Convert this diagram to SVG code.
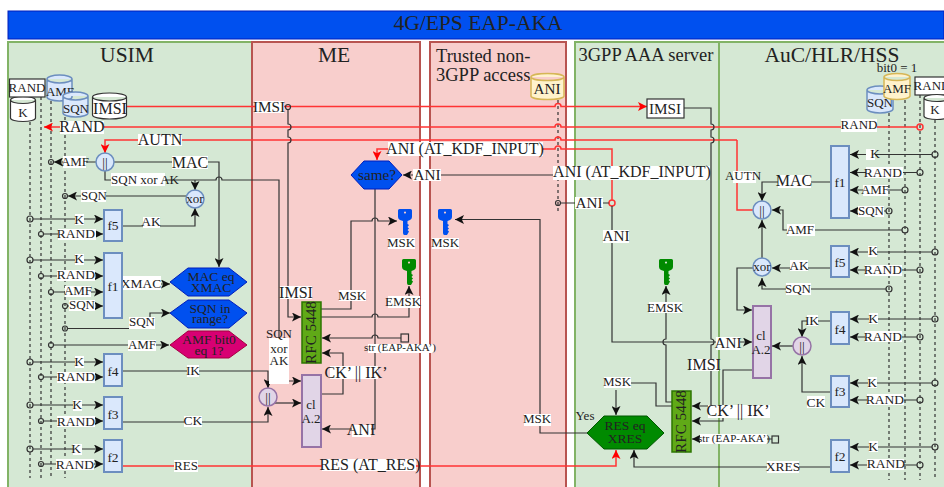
<svg xmlns="http://www.w3.org/2000/svg" width="944" height="487" viewBox="0 0 944 487">
<style>
text{font-family:"Liberation Serif","Times New Roman",serif;fill:#222;text-anchor:middle}
.t20{font-size:21.500px}.t18{font-size:18.500px}.s16{font-size:16px}.s15{font-size:15.200px}.s14{font-size:13.500px}.s13{font-size:13px}.s11{font-size:11px}
.lane{stroke-width:2}.g{fill:#d5e8d4;stroke:#82b366}.r{fill:#f8cecc;stroke:#b85450}
.c{fill:none;stroke:#333;stroke-width:1.2}
.arr{marker-end:url(#a)}
.red{fill:none;stroke:#f33;stroke-width:1.500}
.rarr{marker-end:url(#ra)}
.dot{fill:none;stroke:#333;stroke-width:1.200;stroke-dasharray:3 3}
.o{fill:none;stroke:#333;stroke-width:1.200}
.ro{fill:none;stroke:#f33;stroke-width:1.500}
.bg{fill:#fff}
.fn{fill:#dae8fc;stroke:#6c8ebf;stroke-width:2}
.pu{fill:#e1d5e7;stroke:#9673a6;stroke-width:2}
.rfc{fill:#60a917;stroke:#2d7600;stroke-width:1.500}
.cb{fill:#dae8fc;stroke:#6c8ebf;stroke-width:1.500}
.cy{fill:#fff2cc;stroke:#d6b656;stroke-width:1.500}
.cw{fill:#fff;stroke:#333;stroke-width:1.200}
.hb{fill:#0050ef;stroke:#001dbc}
.hm{fill:#d80073;stroke:#a50040}
.hg{fill:#008a00;stroke:#005700}
.box{fill:#fff;stroke:#333;stroke-width:1.200}
</style>
<defs>
<marker id="a" markerUnits="userSpaceOnUse" markerWidth="10" markerHeight="9" refX="9" refY="4.500" orient="auto"><path d="M0,0 L9,4.500 L0,9 L2.200,4.500 Z" fill="#111"/></marker>
<marker id="ra" markerUnits="userSpaceOnUse" markerWidth="10" markerHeight="9" refX="9" refY="4.500" orient="auto"><path d="M0,0 L9,4.500 L0,9 L2.200,4.500 Z" fill="#f00"/></marker>
<g id="key"><path d="M1.500,0 H12.500 Q14,0 14,1.500 V8 Q14,10 12,11 L9.500,12 V15 L11,16 L9.500,18 L11,19.500 L9.500,21 L11,22.500 L9,26 H6.500 Q5,26 5,24 V12 L2,11 Q0,10 0,8 V1.500 Q0,0 1.500,0 Z M7,2.500 a1,1 0 1 0 .01,0 Z" fill-rule="evenodd"/></g>
</defs>

<g id="title"><rect x="8" y="11" width="936" height="28" fill="#0050ef" stroke="#001dbc"/><text x="478" y="30" class="t20">4G/EPS EAP-AKA</text></g>
<g id="lanes">
<rect class="lane g" x="8" y="42" width="244" height="450"/>
<rect class="lane r" x="252" y="42" width="168" height="450"/>
<rect class="lane r" x="430" y="42" width="136" height="450"/>
<rect class="lane g" x="575" y="42" width="144" height="450"/>
<rect class="lane g" x="719" y="42" width="230" height="450"/>
<text x="127" y="62" class="t20">USIM</text>
<text x="334" y="62" class="t20">ME</text>
<text x="436" y="62" class="t18" style="text-anchor:start">Trusted non-</text>
<text x="436" y="81" class="t18" style="text-anchor:start">3GPP access</text>
<text x="646" y="61" class="t18">3GPP AAA server</text>
<text x="832" y="62" class="t20">AuC/HLR/HSS</text>
</g>

<g id="connectors">
<path class="dot" d="M30,122V478M41,97V478M51,101V478M65,117V478"/>
<path class="dot" d="M889,113V480M905,100V480M920,95V480M935,120V480"/>
<path class="dot" d="M558,100V214"/>
<!-- red -->
<path class="red" d="M127,106.500H555a3,3 0 0 1 6,0H647" style="marker-end:url(#ra)"/>
<path class="red rarr" d="M917,127H561a3,3 0 0 0 -6,0H44"/>
<path class="red rarr" d="M737,140H561a3,3 0 0 0 -6,0H105V153"/>
<path class="red" d="M737,140V210H753"/>
<path class="red rarr" d="M612,200V149H561a3,3 0 0 0 -6,0H377V160"/>
<path class="red rarr" d="M122,466H616V450"/>
<circle class="ro" cx="920" cy="127" r="3"/><circle class="ro" cx="612" cy="203" r="3"/>
<!-- USIM -->
<path class="c arr" d="M96,162H54"/><circle class="o" cx="51" cy="162" r="2.500"/>
<path class="c arr" d="M114,162H219V267"/>
<path class="c arr" d="M105,171V180H216a3,3 0 0 1 6,0H279V381H301"/>
<path class="c arr" d="M195,180V190"/>
<path class="c arr" d="M186,196H68"/><circle class="o" cx="65" cy="196" r="2.500"/>
<path class="c arr" d="M122,226H195V208"/>
<path class="c arr" d="M33,219H103"/><path class="c arr" d="M44,234H103"/>
<path class="c arr" d="M33,260H103"/><path class="c arr" d="M44,276H103"/><path class="c arr" d="M54,292H103"/><path class="c arr" d="M68,306H103"/>
<path class="c arr" d="M122,284H170"/>
<path class="c arr" d="M68,328.500H150V313H170"/>
<path class="c arr" d="M54,345H169"/>
<path class="c arr" d="M33,362H103"/><path class="c arr" d="M44,377H103"/>
<path class="c arr" d="M122,371H268V388"/>
<path class="c arr" d="M33,405H103"/><path class="c arr" d="M44,421H103"/>
<path class="c arr" d="M122,414V422H268V407"/>
<path class="c arr" d="M33,449H103"/><path class="c arr" d="M44,464H103"/>
<g class="o">
<circle cx="30" cy="219" r="3"/><circle cx="41" cy="234" r="2.500"/><circle cx="30" cy="260" r="3"/><circle cx="41" cy="276" r="2.500"/><circle cx="51" cy="292" r="2.500"/><circle cx="65" cy="306" r="2.500"/><circle cx="65" cy="328.500" r="2.500"/><circle cx="51" cy="345" r="2.500"/><circle cx="30" cy="362" r="3"/><circle cx="41" cy="377" r="2.500"/><circle cx="30" cy="405" r="3"/><circle cx="41" cy="421" r="2.500"/><circle cx="30" cy="449" r="3"/><circle cx="41" cy="464" r="2.500"/>
</g>
<!-- ME -->
<circle class="o" cx="288" cy="107" r="2.500"/>
<path class="c arr" d="M288,110V124a3,3 0 0 1 0,6V137a3,3 0 0 1 0,6V317H301"/>
<path class="c arr" d="M275,403H301"/>
<path class="c arr" d="M321,394H343V353H322"/>
<path class="c arr" d="M375,189V429H322"/>
<path class="c arr" d="M321,309H351V221H372a3,3 0 0 1 6,0H397"/>
<path class="c arr" d="M321,317H372a3,3 0 0 1 6,0H409V286"/>
<path class="c arr" d="M401,338H378a3,3 0 0 0 -6,0H322"/>
<path class="c arr" d="M555,175H403"/><circle class="o" cx="558" cy="175" r="3"/>
<path class="c" d="M561,203H609"/><circle class="o" cx="558" cy="203" r="2.500"/>
<path class="c arr" d="M587,433H540V219.500H455"/>
<!-- AAA -->
<path class="c arr" d="M612,206V342H752"/>
<path class="c arr" d="M672,402H666V345a3,3 0 0 1 0,-6V286"/>
<path class="c" d="M630,383H656V406H672"/>
<path class="c arr" d="M616,390V415"/>
<path class="c arr" d="M684,108H711V124a3,3 0 0 1 0,6V137a3,3 0 0 1 0,6V339a3,3 0 0 1 0,6V406H692"/>
<path class="c arr" d="M752,370H723V421H692"/>
<path class="c arr" d="M772,439H692"/>
<path class="c arr" d="M831,467H634V450"/>
<!-- AuC -->
<path class="c arr" d="M932,154.500H850"/><path class="c arr" d="M917,172.500H850"/><path class="c arr" d="M902,190H850"/><path class="c arr" d="M886,211H850"/>
<path class="c arr" d="M831,182H762V201"/>
<path class="c arr" d="M902,230H783V210H772"/>
<path class="c arr" d="M762,258V220"/>
<path class="c arr" d="M932,252H850"/><path class="c arr" d="M917,270H850"/>
<path class="c arr" d="M831,268H772"/>
<path class="c arr" d="M886,289H762V278"/>
<path class="c arr" d="M753,268H737V310H752"/>
<path class="c arr" d="M932,319H850"/><path class="c arr" d="M917,337H850"/>
<path class="c arr" d="M831,321H802V337"/>
<path class="c arr" d="M793,346H772"/>
<path class="c arr" d="M932,383H850"/><path class="c arr" d="M917,400H850"/>
<path class="c arr" d="M831,392H802V356"/>
<path class="c arr" d="M932,447H850"/><path class="c arr" d="M917,465H850"/>
<g class="o">
<circle cx="935" cy="154.500" r="3"/><circle cx="920" cy="172.500" r="3"/><circle cx="905" cy="190" r="3"/><circle cx="889" cy="211" r="3"/><circle cx="905" cy="230" r="3"/><circle cx="935" cy="252" r="3"/><circle cx="920" cy="270" r="3"/><circle cx="889" cy="289" r="3"/><circle cx="935" cy="319" r="3"/><circle cx="920" cy="337" r="3"/><circle cx="935" cy="383" r="3"/><circle cx="920" cy="400" r="3"/><circle cx="935" cy="447" r="3"/><circle cx="920" cy="465" r="3"/>
</g>
<!-- labels -->
<g class="bg">
<rect x="60" y="121" width="44" height="13"/><rect x="138" y="134" width="44" height="12"/><rect x="63" y="156" width="23" height="12"/><rect x="172" y="156" width="36" height="13"/>
<rect x="111" y="173" width="54" height="13"/><rect x="81" y="190" width="25" height="12"/><rect x="75" y="214" width="9" height="11"/><rect x="143" y="217" width="17" height="11"/><rect x="58" y="229" width="38" height="11"/>
<rect x="75" y="254" width="9" height="11"/><rect x="57" y="270" width="38" height="11"/><rect x="65" y="286" width="26" height="11"/><rect x="69" y="300" width="26" height="11"/>
<rect x="123" y="276" width="38" height="14"/><rect x="129" y="317" width="26" height="12"/><rect x="128" y="340" width="28" height="11"/>
<rect x="75" y="356" width="9" height="12"/><rect x="57" y="372" width="38" height="11"/><rect x="187" y="365" width="12" height="12"/>
<rect x="73" y="400" width="9" height="11"/><rect x="57" y="416" width="38" height="11"/><rect x="184" y="416" width="18" height="11"/>
<rect x="73" y="444" width="9" height="11"/><rect x="56" y="459" width="38" height="11"/><rect x="174" y="460" width="24" height="12"/>
<rect x="255" y="101" width="29" height="12"/>
<rect x="280" y="286" width="32" height="13"/><rect x="339" y="290" width="27" height="11"/><rect x="388" y="296" width="32" height="12"/>
<rect x="269" y="338" width="20" height="46"/>
<rect x="330" y="366" width="48" height="13"/>
<rect x="352" y="425" width="19" height="12"/><rect x="368" y="344" width="66" height="9"/>
<rect x="322" y="459" width="94" height="12"/>
<rect x="388" y="142" width="155" height="14"/><rect x="413" y="169" width="28" height="12"/>
<rect x="388" y="238" width="27" height="11"/><rect x="432" y="238" width="27" height="11"/>
<rect x="524" y="414" width="27" height="12"/>
<rect x="553" y="166" width="157" height="14"/><rect x="575" y="197" width="28" height="12"/><rect x="603" y="230" width="26" height="13"/>
<rect x="649" y="302" width="33" height="11"/><rect x="604" y="377" width="27" height="11"/>
<rect x="690" y="359" width="29" height="12"/><rect x="716" y="337" width="24" height="13"/>
<rect x="708" y="405" width="62" height="13"/><rect x="700" y="434" width="67" height="10"/>
<rect x="767" y="461" width="32" height="12"/>
<rect x="841" y="119" width="36" height="13"/><rect x="733" y="171" width="23" height="12"/><rect x="778" y="175" width="33" height="13"/>
<rect x="866" y="149" width="9" height="11"/><rect x="866" y="167" width="37" height="11"/><rect x="863" y="185" width="25" height="11"/><rect x="858" y="206" width="26" height="11"/>
<rect x="787" y="224" width="28" height="12"/><rect x="868" y="246" width="9" height="11"/><rect x="865" y="265" width="37" height="11"/><rect x="790" y="260" width="18" height="11"/><rect x="786" y="283" width="25" height="12"/>
<rect x="807" y="315" width="11" height="11"/><rect x="869" y="313" width="9" height="11"/><rect x="865" y="331" width="37" height="11"/><rect x="807" y="396" width="18" height="12"/>
<rect x="868" y="377" width="9" height="11"/><rect x="867" y="394" width="37" height="11"/><rect x="869" y="441" width="9" height="11"/><rect x="867" y="459" width="37" height="11"/>
</g>
<text x="82" y="132" class="s16">RAND</text><text x="160" y="145" class="s16">AUTN</text><text x="75" y="166" class="s13">AMF</text><text x="190" y="168" class="s16">MAC</text>
<text x="145" y="184" class="s13">SQN xor AK</text><text x="94" y="200" class="s13">SQN</text><text x="79" y="224" class="s14">K</text><text x="151" y="226" class="s14">AK</text><text x="76" y="238" class="s14">RAND</text>
<text x="79" y="263" class="s14">K</text><text x="76" y="279" class="s14">RAND</text><text x="78" y="295" class="s13">AMF</text><text x="82" y="309" class="s13">SQN</text>
<text x="141" y="288" class="s14">XMAC</text><text x="142" y="326" class="s13">SQN</text><text x="142" y="349" class="s13">AMF</text>
<text x="79" y="366" class="s14">K</text><text x="76" y="381" class="s14">RAND</text><text x="193" y="375" class="s14">IK</text>
<text x="77" y="409" class="s14">K</text><text x="76" y="426" class="s14">RAND</text><text x="193" y="425" class="s14">CK</text>
<text x="76" y="453" class="s14">K</text><text x="75" y="469" class="s14">RAND</text><text x="186" y="470" class="s13">RES</text>
<text x="269" y="112" class="s15">IMSI</text>
<text x="296" y="298" class="s16">IMSI</text><text x="352" y="300" class="s13">MSK</text><text x="403" y="306" class="s13">EMSK</text>
<text x="279" y="338" class="s13">SQN</text><text x="279" y="353" class="s13">xor</text><text x="279" y="365" class="s13">AK</text>
<text x="356" y="378" class="s16">CK’ || IK’</text><text x="361" y="435" class="s16">ANI</text><text x="400" y="351" class="s11">str (EAP-AKA’)</text>
<text x="370" y="470" class="s16">RES (AT_RES)</text>
<text x="465" y="154" class="s16">ANI (AT_KDF_INPUT)</text><text x="427" y="180" class="s15">ANI</text>
<text x="401" y="247" class="s13">MSK</text><text x="445" y="247" class="s13">MSK</text><text x="537" y="423" class="s13">MSK</text>
<text x="632" y="177" class="s16">ANI (AT_KDF_INPUT)</text><text x="589" y="208" class="s15">ANI</text><text x="616" y="241" class="s15">ANI</text>
<text x="665" y="312" class="s13">EMSK</text><text x="617" y="386" class="s13">MSK</text><text x="585" y="420" class="s13">Yes</text>
<text x="704" y="370" class="s16">IMSI</text><text x="728" y="348" class="s15">ANI</text><text x="738" y="416" class="s16">CK’ || IK’</text><text x="734" y="442" class="s11">str (EAP-AKA’)</text>
<text x="783" y="471" class="s14">XRES</text>
<text x="859" y="129" class="s13">RAND</text><text x="743" y="180" class="s13">AUTN</text><text x="794" y="186" class="s16">MAC</text>
<text x="875" y="158" class="s14">K</text><text x="883" y="177" class="s14">RAND</text><text x="875" y="194" class="s13">AMF</text><text x="871" y="215" class="s13">SQN</text>
<text x="800" y="234" class="s13">AMF</text><text x="873" y="255" class="s14">K</text><text x="883" y="274" class="s14">RAND</text><text x="799" y="270" class="s14">AK</text><text x="798" y="293" class="s13">SQN</text>
<text x="812" y="325" class="s14">IK</text><text x="873" y="323" class="s14">K</text><text x="883" y="341" class="s14">RAND</text><text x="816" y="407" class="s14">CK</text>
<text x="872" y="387" class="s14">K</text><text x="885" y="404" class="s14">RAND</text><text x="873" y="451" class="s14">K</text><text x="886" y="468" class="s14">RAND</text>
<text x="897" y="72" class="s13">bit0 = 1</text>
</g>

<g id="usim-k"><path class="cw" d="M10.500,100a12.500,3.500 0 0 1 25,0V118a12.500,3.500 0 0 1 -25,0ZM10.500,100a12.500,3.500 0 0 0 25,0"/><text x="23" y="117" class="s13">K</text></g>
<g id="usim-amf"><path class="cb" d="M47,79a12.500,4 0 0 1 25,0V97a12.500,4 0 0 1 -25,0ZM47,79a12.500,4 0 0 0 25,0"/><text x="60" y="96" class="s13">AMF</text></g>
<g id="usim-sqn"><path class="cb" d="M63,96a12.500,4 0 0 1 25,0V113a12.500,4 0 0 1 -25,0ZM63,96a12.500,4 0 0 0 25,0"/><text x="76" y="113" class="s13">SQN</text></g>
<g id="usim-rand"><rect class="box" x="9.500" y="79" width="35.500" height="18"/><text x="27" y="92" class="s13">RAND</text></g>
<g id="usim-imsi"><path class="cw" d="M92.500,97a17,4 0 0 1 34,0V115a17,4 0 0 1 -34,0ZM92.500,97a17,4 0 0 0 34,0"/><text x="110" y="114" class="s16">IMSI</text></g>
<g id="usim-concat"><circle class="cb" cx="105" cy="162" r="9"/><text x="105" y="167" class="s14">||</text></g>
<g id="usim-xor"><circle class="cb" cx="195" cy="199" r="9"/><text x="195" y="203" class="s13">xor</text></g>
<g id="usim-f5"><rect class="fn" x="104" y="210" width="18" height="31"/><text x="113" y="230" class="s14">f5</text></g>
<g id="usim-f1"><rect class="fn" x="104" y="253" width="18" height="65"/><text x="113" y="291" class="s14">f1</text></g>
<g id="usim-f4"><rect class="fn" x="104" y="354" width="18" height="32"/><text x="113" y="376" class="s14">f4</text></g>
<g id="usim-f3"><rect class="fn" x="104" y="397" width="18" height="32"/><text x="113" y="419" class="s14">f3</text></g>
<g id="usim-f2"><rect class="fn" x="104" y="440" width="18" height="32"/><text x="113" y="462" class="s14">f2</text></g>
<g id="hex-mac"><polygon class="hb" points="170,282 188,268 229,268 247,282 229,296 188,296"/><text x="211" y="281" class="s14">MAC eq</text><text x="211" y="292" class="s14">XMAC</text></g>
<g id="hex-sqn"><polygon class="hb" points="170,313 188,300 229,300 247,313 229,328 188,328"/><text x="210" y="313" class="s14">SQN in</text><text x="210" y="323" class="s14">range?</text></g>
<g id="hex-amf"><polygon class="hm" points="170,345 188,331 229,331 247,345 229,358 188,358"/><text x="209" y="344" class="s14">AMF bit0</text><text x="209" y="355" class="s14">eq 1?</text></g>
<g id="me-concat"><circle class="pu" cx="268" cy="397" r="9" style="stroke-width:1.500"/><text x="268" y="402" class="s14">||</text></g>
<g id="me-a2"><rect class="pu" x="302" y="375" width="19" height="72"/><text x="311" y="409" class="s13">cl</text><text x="311" y="423" class="s13">A.2</text></g>
<g id="me-rfc"><rect class="rfc" x="302" y="302" width="19" height="61"/><text transform="translate(316 332.500) rotate(-90)" class="s15">RFC 5448</text></g>
<g id="me-same"><polygon class="hb" points="351,175 364,161 389,161 402,175 389,189 364,189"/><text x="377" y="180" class="s15">same?</text></g>
<g id="me-msk"><use href="#key" x="398" y="209" fill="#0050ef"/></g>
<g id="ta-msk"><use href="#key" x="438" y="209" fill="#0050ef"/></g>
<g id="me-emsk"><use href="#key" x="402" y="259" fill="#008a00"/></g>
<g id="me-str"><rect x="401" y="334" width="7.500" height="8" class="o"/></g>
<g id="ta-ani"><path class="cy" d="M531,77a16.500,3.500 0 0 1 33,0V96a16.500,3.500 0 0 1 -33,0ZM531,77a16.500,3.500 0 0 0 33,0"/><text x="547" y="94" class="s15">ANI</text></g>
<g id="aaa-imsi"><rect class="box" x="647" y="99" width="37" height="19"/><text x="665" y="114" class="s15">IMSI</text></g>
<g id="aaa-emsk"><use href="#key" x="659" y="259" fill="#008a00"/></g>
<g id="aaa-rfc"><rect class="rfc" x="672" y="391" width="19" height="61"/><text transform="translate(686 421.500) rotate(-90)" class="s15">RFC 5448</text></g>
<g id="aaa-res"><polygon class="hg" points="587,433 604,416 647,416 664,433 647,449 604,449"/><text x="625" y="430" class="s14">RES eq</text><text x="625" y="443" class="s14">XRES</text></g>
<g id="aaa-str"><rect x="772" y="436" width="6.500" height="7" class="o"/></g>
<g id="auc-sqn"><path class="cb" d="M867,90a13,4 0 0 1 26,0V109a13,4 0 0 1 -26,0ZM867,90a13,4 0 0 0 26,0"/><text x="880" y="107" class="s13">SQN</text></g>
<g id="auc-amf"><path class="cy" d="M884,77a13,3.500 0 0 1 26,0V96a13,3.500 0 0 1 -26,0ZM884,77a13,3.500 0 0 0 26,0"/><text x="897" y="93" class="s13">AMF</text></g>
<g id="auc-rand"><rect class="box" x="915" y="77" width="35" height="18"/><text x="932" y="90" class="s13">RAND</text></g>
<g id="auc-k"><path class="cw" d="M924,98a13,3.500 0 0 1 26,0V116a13,3.500 0 0 1 -26,0ZM924,98a13,3.500 0 0 0 26,0"/><text x="935" y="114" class="s13">K</text></g>
<g id="auc-concat"><circle class="cb" cx="762" cy="210" r="9"/><text x="762" y="215" class="s14">||</text></g>
<g id="auc-xor"><circle class="cb" cx="762" cy="267" r="9"/><text x="762" y="271" class="s13">xor</text></g>
<g id="auc-a2"><rect class="pu" x="753" y="306" width="18" height="72"/><text x="761" y="340" class="s13">cl</text><text x="761" y="354" class="s13">A.2</text></g>
<g id="auc-concat2"><circle class="pu" cx="802" cy="346" r="9" style="stroke-width:1.500"/><text x="802" y="351" class="s14">||</text></g>
<g id="auc-f1"><rect class="fn" x="831" y="146" width="18" height="72"/><text x="840" y="187" class="s14">f1</text></g>
<g id="auc-f5"><rect class="fn" x="831" y="246" width="18" height="31"/><text x="840" y="267" class="s14">f5</text></g>
<g id="auc-f4"><rect class="fn" x="831" y="312" width="18" height="32"/><text x="840" y="334" class="s14">f4</text></g>
<g id="auc-f3"><rect class="fn" x="831" y="376" width="18" height="31"/><text x="840" y="396" class="s14">f3</text></g>
<g id="auc-f2"><rect class="fn" x="831" y="440" width="18" height="32"/><text x="840" y="461" class="s14">f2</text></g>
</svg>
